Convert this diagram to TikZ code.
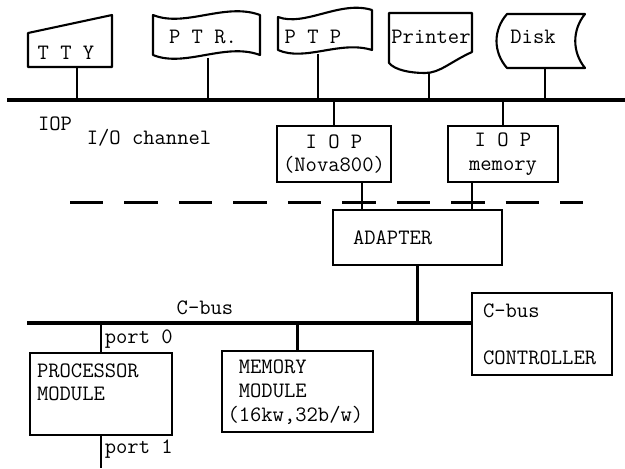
\documentclass[tikz,border=0pt]{standalone}
\usetikzlibrary{positioning,calc}

\begin{document}
\begin{tikzpicture}[x=0.02cm,y=-0.02cm,font=\ttfamily\fontsize{12.5}{13.5}\selectfont,
  box/.style={draw,line width=1.2pt,align=left},
  bus/.style={line width=2.2pt},
  wire/.style={line width=1.2pt},
  dev/.style={draw,line width=1.2pt,line join=round}]
\useasboundingbox (0,0) rectangle (625,468);
% I/O channel
\coordinate (io-l) at (7,100);
\coordinate (io-r) at (625,100);
\draw[bus] (io-l) -- (io-r);
% peripherals
\node (tty) at (66,53) {T T Y};
\draw[dev] (28,33) -- (112,15) -- (112,67) -- (28,67) -- cycle;
\coordinate (tty-b) at (77,67);
\node (ptr) at (203,37) {P T R.};
\draw[dev] (153,15) .. controls (185,28) and (225,2) .. (260,15) -- (260,55) .. controls (225,42) and (185,68) .. (153,55) -- cycle;
\coordinate (ptr-b) at (208,58);
\node (ptp) at (313,37) {P T P};
\draw[dev] (278,17) .. controls (305,27) and (340,0) .. (372,10) -- (372,50) .. controls (340,40) and (305,62) .. (278,50) -- cycle;
\coordinate (ptp-b) at (318,54);
\node (prn) at (431,37) {Printer};
\draw[dev] (389,13) -- (472,13) -- (472,52) .. controls (450,62) and (440,73) .. (425,73) .. controls (410,73) and (395,70) .. (389,63) -- cycle;
\coordinate (prn-b) at (429,73);
\node (dsk) at (533,37) {Disk};
\draw[dev] (507,14) -- (585,14) .. controls (572,30) and (572,52) .. (585,68) -- (507,68) .. controls (493,52) and (493,30) .. (507,14) -- cycle;
\coordinate (dsk-b) at (545,68);
\foreach \p in {tty,ptr,ptp,prn,dsk} \draw[wire] (\p-b) -- (\p-b |- io-l);
\node (iop) at (55,124) {IOP};
\node (ioch) at (149,138) {I/O channel};
% IOP
\node[box,align=center,minimum width=2.2cm,minimum height=1.12cm] (iopn) at (334,154) {I O P\\(Nova800)};
\node[box,align=center,minimum width=2.2cm,minimum height=1.12cm] (iopm) at (503,154) {I O P\\memory};
\draw[wire] (iopn.north) -- (iopn.north |- io-l);
\draw[wire] (iopm.north) -- (iopm.north |- io-l);
\coordinate (sep-l) at (70,202);
\coordinate (sep-r) at (583,202);
\draw[line width=1.7pt,dash pattern=on 19pt off 12pt] (sep-l) -- (sep-r);
\node[box,minimum width=3.38cm,minimum height=1.1cm,text width=2.58cm] (adapter) at (417.5,237.5) {ADAPTER};
\draw[wire] ([xshift=0.56cm]iopn.south) coordinate (a1) -- (a1 |- adapter.north);
\draw[wire] ([xshift=-0.62cm]iopm.south) coordinate (a2) -- (a2 |- adapter.north);
% C-bus
\node[box,minimum width=2.8cm,minimum height=1.64cm,text width=2.36cm] (ctrl) at (542,334) {C-bus\\~\\CONTROLLER};
\coordinate (cb-l) at (27,323);
\draw[bus] (cb-l) -- (cb-l -| ctrl.west);
\node (cbus) at (205,308) {C-bus};
\draw[wire] (adapter.south) -- (adapter.south |- cb-l);
\node[box,minimum width=2.84cm,minimum height=1.64cm,text width=2.56cm] (proc) at (101,394) {PROCESSOR\\MODULE\\~};
\node[box,minimum width=2.9cm,minimum height=1.62cm,text width=2.8cm] (mem) at (297.5,391.5) {\phantom{(}MEMORY\\\phantom{(}MODULE\\(16kw,32b/w)};
\draw[wire] (proc.north) -- (proc.north |- cb-l);
\draw[wire] (mem.north) -- (mem.north |- cb-l);
\node[anchor=south west,inner sep=2pt] (p0) at (proc.north) {port 0};
\coordinate (p1-end) at (101,468);
\draw[wire] (proc.south) -- (p1-end);
\node[anchor=north west,inner sep=2pt] (p1) at (proc.south) {port 1};
\end{tikzpicture}
\end{document}
